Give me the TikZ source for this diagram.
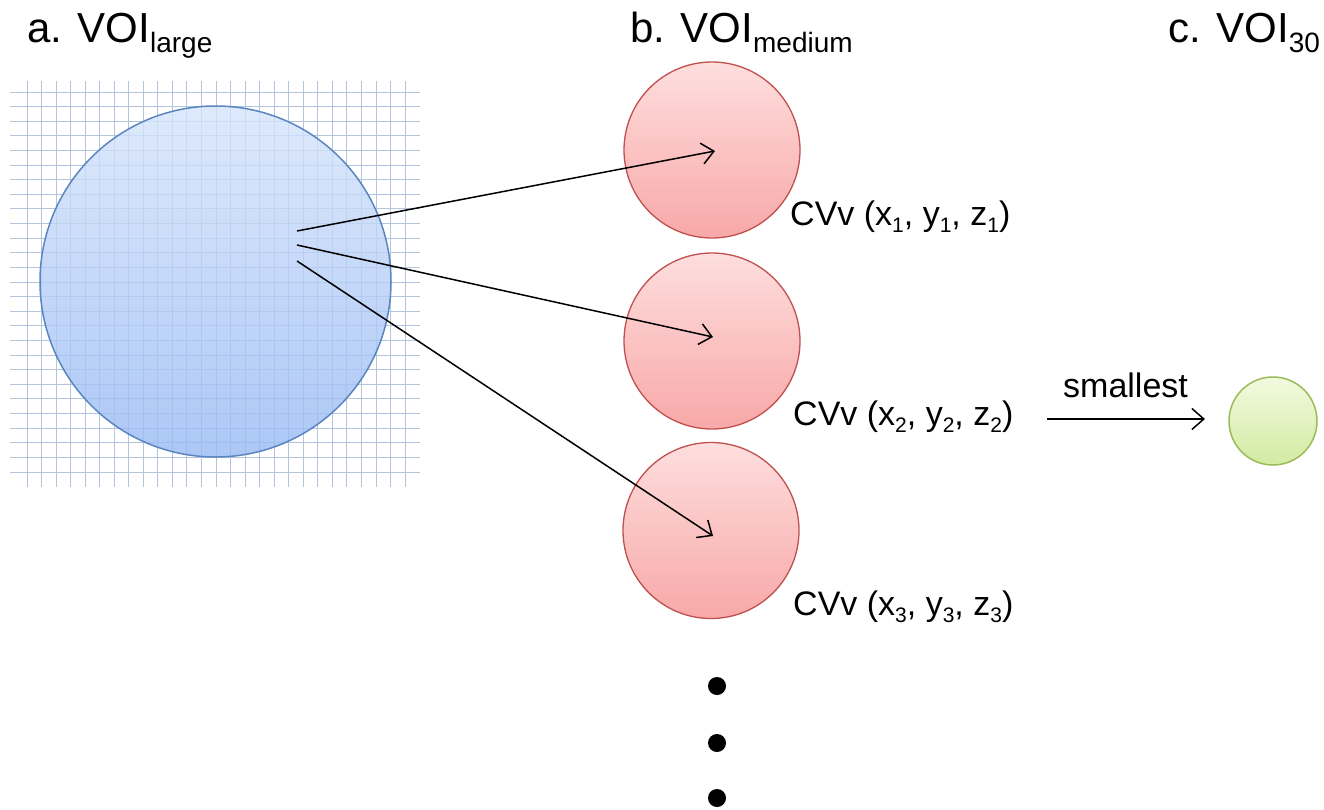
\documentclass[tikz,border=0pt]{standalone}
\usepackage{fontspec}
\setmainfont{Liberation Sans}
\usetikzlibrary{arrows.meta}
\definecolor{gridc}{HTML}{B4C4DC}
\definecolor{blueTop}{HTML}{D6E4FB}
\definecolor{blueBot}{HTML}{97B9F3}
\definecolor{blueEdge}{HTML}{5A86C0}
\definecolor{redTop}{HTML}{FEDEDE}
\definecolor{redBot}{HTML}{F8A8A8}
\definecolor{redEdge}{HTML}{C0504D}
\definecolor{grnTop}{HTML}{F2FADF}
\definecolor{grnBot}{HTML}{D2EBA2}
\definecolor{grnEdge}{HTML}{9BBB59}
\newcommand\fsz[2]{{\fontsize{#1}{#1}\selectfont #2}}
\newcommand\lowsub[1]{\raisebox{-7.7pt}{\fontsize{21}{21}\selectfont #1}}
\newcommand\titlesub[1]{\raisebox{-9.5pt}{\fontsize{28}{28}\selectfont #1}}
\tikzset{
  gridline/.style={draw=gridc, line width=0.9pt},
  bigball/.style={circle, inner sep=0pt, minimum size=351pt, draw=blueEdge, line width=1.5pt,
                  top color=blueTop, bottom color=blueBot, fill opacity=0.8},
  redball/.style={circle, inner sep=0pt, minimum size=176pt, draw=redEdge, line width=1.3pt,
                  top color=redTop, bottom color=redBot},
  grnball/.style={circle, inner sep=0pt, minimum size=88pt, draw=grnEdge, line width=1.5pt,
                  top color=grnTop, bottom color=grnBot},
  dotnode/.style={circle, fill=black, inner sep=0pt, minimum size=18pt},
  lbl/.style={anchor=base west, inner sep=0pt},
  arr/.style={line width=1.5pt, -{Straight Barb[length=12pt,width=21pt]}}
}
\begin{document}
\begin{tikzpicture}[x=1pt,y=-1pt]
\useasboundingbox (0,0) rectangle (1324,809);
% grid
\foreach \k in {0,...,26} {
  \draw[gridline] (10,{92+14.615*\k}) -- (420,{92+14.615*\k});
  \draw[gridline] ({27+14.54*\k},81) -- ({27+14.54*\k},487);
}
% circles
\node[bigball] (big) at (215.5,281.5) {};
\node[redball] (r1) at (712,150) {};
\node[redball] (r2) at (712,341) {};
\node[redball] (r3) at (711,530.5) {};
\node[grnball] (g) at (1273,421) {};
% dots
\node[dotnode] (d1) at (717,686) {};
\node[dotnode] (d2) at (717,743) {};
\node[dotnode] (d3) at (717,798) {};
% arrow end points
\coordinate (s1) at (297,231);
\coordinate (s2) at (297,245);
\coordinate (s3) at (297,261);
\coordinate (e1) at (715,151);
\coordinate (e2) at (713,337);
\coordinate (e3) at (713,536);
\coordinate (sa) at (1047,419);
\coordinate (sb) at (1205,419);
\draw[arr] (s1) -- (e1);
\draw[arr] (s2) -- (e2);
\draw[arr] (s3) -- (e3);
\draw[arr] (sa) -- (sb);
% titles
\node[lbl] (ta) at (27,42.7) {\fsz{42}{a. VOI}\titlesub{large}};
\node[lbl] (tb) at (630,42.7) {\fsz{42}{b. VOI}\titlesub{medium}};
\node[lbl] (tc) at (1168,42.7) {\fsz{42}{c. VOI}\titlesub{30}};
% labels
\node[lbl] (l1) at (790,225) {\fsz{34}{CVv (x\lowsub{1}, y\lowsub{1}, z\lowsub{1})}};
\node[lbl] (l2) at (793,425) {\fsz{34}{CVv (x\lowsub{2}, y\lowsub{2}, z\lowsub{2})}};
\node[lbl] (l3) at (793,615) {\fsz{34}{CVv (x\lowsub{3}, y\lowsub{3}, z\lowsub{3})}};
\node[lbl] (sm) at (1063,397) {\fsz{34}{smallest}};
\end{tikzpicture}
\end{document}
